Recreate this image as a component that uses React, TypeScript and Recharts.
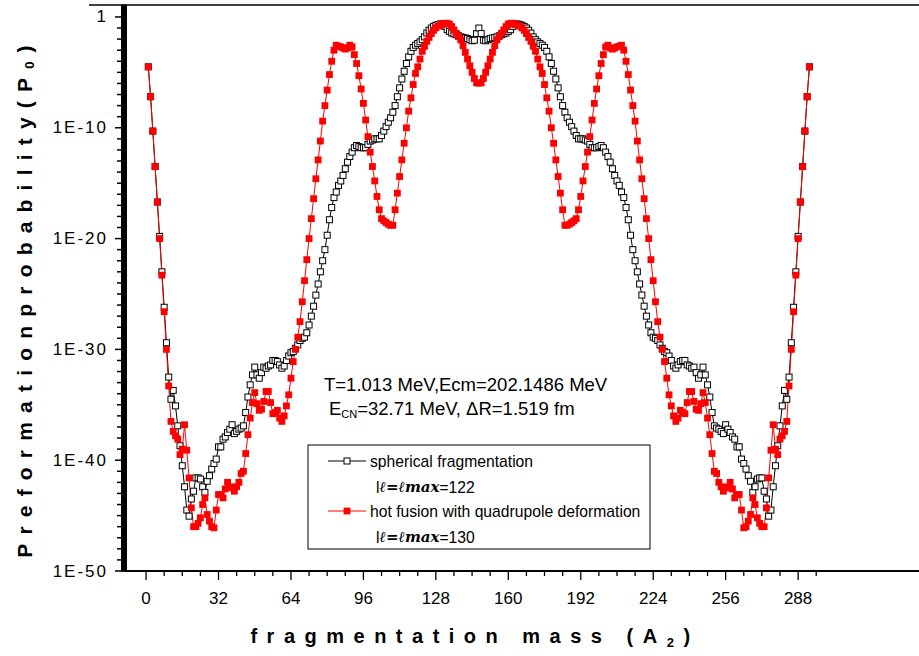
import React from 'react';
import { LineChart, Line, XAxis, YAxis } from 'recharts';

// log10 of preformation probability P0, A2 = 1..147 (left half)
const sphericalLog10Left = [
  -4.5, -7.2, -10.3, -13.5, -16.7, -19.8, -23.0, -26.2, -29.4, -32.5,
  -34.5, -33.7, -35.1, -36.9, -38.7, -40.5, -42.4, -44.5, -45.05, -43.5,
  -42.8, -41.6, -41.6, -41.7, -42.4, -42.9, -41.9, -41.4, -40.8, -40.3,
  -39.9, -38.8, -38.8, -38.1, -37.9, -37.5, -37.2, -36.8, -37.6, -37.4,
  -37.2, -37.1, -36.9, -35.7, -34.3, -33.2, -32.3, -31.6, -32.3, -32.6,
  -32.1, -31.6, -31.7, -31.5, -31.4, -31.0, -31.0, -31.1, -31.4, -31.7,
  -31.5, -31.0, -30.6, -30.3, -30.2, -29.9, -29.6, -29.2, -29.0, -28.9,
  -28.5, -27.8, -27.0, -26.1, -25.1, -24.1, -23.0, -22.0, -21.0, -19.7,
  -18.3, -17.2, -16.3, -15.8, -15.2, -14.8, -14.3, -13.7, -13.1, -12.6,
  -12.2, -11.8, -11.6, -11.7, -11.8, -11.8, -11.8, -11.5, -11.2, -11.1,
  -11.0, -11.0, -11.0, -10.7, -10.3, -9.9, -9.5, -9.1, -8.6, -8.0,
  -7.2, -6.4, -5.6, -4.9, -4.2, -3.6, -3.1, -2.75, -2.55, -2.4,
  -2.25, -2.05, -1.8, -1.45, -1.2, -1.0, -0.85, -0.75, -0.68, -0.63,
  -0.65, -0.85, -1.15, -1.3, -1.45, -1.52, -1.6, -1.7, -1.8, -1.85,
  -1.9, -1.95, -2.05, -2.15, -2.1, -1.5, -1.0,
];
// A2 = 148..293 (right half)
const sphericalLog10Right = [
  -1.5, -2.1, -2.15, -2.05, -1.95, -1.9, -1.85, -1.8, -1.7, -1.6,
  -1.52, -1.45, -1.3, -1.15, -0.85, -0.65, -0.63, -0.68, -0.75, -0.85,
  -1.0, -1.2, -1.45, -1.8, -2.05, -2.25, -2.4, -2.55, -2.75, -3.1,
  -3.6, -4.2, -4.9, -5.6, -6.4, -7.2, -8.0, -8.6, -9.1, -9.5,
  -9.9, -10.3, -10.7, -11.0, -11.0, -11.0, -11.1, -11.2, -11.5, -11.8,
  -11.8, -11.8, -11.7, -11.6, -11.8, -12.2, -12.6, -13.1, -13.7, -14.3,
  -14.8, -15.2, -15.8, -16.3, -17.2, -18.3, -19.7, -21.0, -22.0, -23.0,
  -24.1, -25.1, -26.1, -27.0, -27.8, -28.5, -28.9, -29.0, -29.2, -29.6,
  -29.9, -30.2, -30.3, -30.6, -31.0, -31.5, -31.7, -31.4, -31.1, -31.0,
  -31.0, -31.4, -31.5, -31.7, -31.6, -32.1, -32.6, -32.3, -31.6, -32.3,
  -33.2, -34.3, -35.7, -36.9, -37.1, -37.2, -37.4, -37.6, -36.8, -37.2,
  -37.5, -37.9, -38.1, -38.8, -38.8, -39.9, -40.3, -40.8, -41.4, -41.9,
  -42.9, -42.4, -41.7, -41.6, -41.6, -42.8, -43.5, -45.05, -44.5, -42.4,
  -40.5, -38.7, -36.9, -35.1, -33.7, -34.5, -32.5, -29.4, -26.2, -23.0,
  -19.8, -16.7, -13.5, -10.3, -7.2, -4.5,
];

const hotFusionLog10Left = [
  -4.5, -7.2, -10.3, -13.5, -16.7, -20.0, -23.3, -26.6, -30.0, -33.3,
  -36.5, -37.4, -37.8, -38.1, -39.5, -39.0, -36.8, -39.1, -41.6, -44.3,
  -46.0, -46.0, -45.7, -45.2, -44.0, -43.4, -44.9, -45.5, -46.0, -46.1,
  -44.5, -43.1, -43.1, -43.4, -42.6, -42.0, -42.4, -42.5, -42.8, -42.4,
  -42.0, -41.2, -41.0, -39.4, -37.7, -36.2, -34.8, -33.9, -34.9, -35.5,
  -35.4, -34.7, -33.8, -33.8, -34.8, -35.8, -35.7, -35.5, -36.2, -36.5,
  -36.0, -35.1, -34.1, -32.6, -31.1, -30.0, -28.9, -27.5, -25.7, -23.8,
  -21.9, -20.0, -18.2, -16.4, -14.6, -12.9, -11.2, -9.4, -8.0, -6.6,
  -5.2, -4.0, -3.0, -2.55, -2.65, -2.7, -2.8, -2.9, -2.8, -2.55,
  -2.7, -3.4, -4.2, -5.3, -6.5, -7.8, -9.3, -10.8, -12.2, -13.5,
  -14.8, -16.2, -17.4, -18.2, -18.4, -18.55, -18.7, -18.8, -18.8, -17.4,
  -15.9, -14.4, -12.9, -11.4, -10.0, -8.5, -7.3, -6.1, -5.1, -4.5,
  -3.8, -3.1, -2.65, -2.2, -1.85, -1.5, -1.2, -0.98, -0.82, -0.72,
  -0.62, -0.57, -0.57, -0.65, -0.87, -1.17, -1.47, -1.77, -2.07, -2.6,
  -3.2, -3.8, -4.4, -5.0, -5.55, -5.95, -5.97,
];
const hotFusionLog10Right = [
  -5.95, -5.55, -5.0, -4.4, -3.8, -3.2, -2.6, -2.07, -1.77, -1.47,
  -1.17, -0.87, -0.65, -0.57, -0.57, -0.62, -0.72, -0.82, -0.98, -1.2,
  -1.5, -1.85, -2.2, -2.65, -3.1, -3.8, -4.5, -5.1, -6.1, -7.3,
  -8.5, -10.0, -11.4, -12.9, -14.4, -15.9, -17.4, -18.8, -18.8, -18.7,
  -18.55, -18.4, -18.2, -17.4, -16.2, -14.8, -13.5, -12.2, -10.8, -9.3,
  -7.8, -6.5, -5.3, -4.2, -3.4, -2.7, -2.55, -2.8, -2.9, -2.8,
  -2.7, -2.65, -2.55, -3.0, -4.0, -5.2, -6.6, -8.0, -9.4, -11.2,
  -12.9, -14.6, -16.4, -18.2, -20.0, -21.9, -23.8, -25.7, -27.5, -28.9,
  -30.0, -31.1, -32.6, -34.1, -35.1, -36.0, -36.5, -36.2, -35.5, -35.7,
  -35.8, -34.8, -33.8, -33.8, -34.7, -35.4, -35.5, -34.9, -33.9, -34.8,
  -36.2, -37.7, -39.4, -41.0, -41.2, -42.0, -42.4, -42.8, -42.5, -42.4,
  -42.0, -42.6, -43.4, -43.1, -43.1, -44.5, -46.1, -46.0, -45.5, -44.9,
  -43.4, -44.0, -45.2, -45.7, -46.0, -46.0, -44.3, -41.6, -39.1, -36.8,
  -39.0, -39.5, -38.1, -37.8, -37.4, -36.5, -33.3, -30.0, -26.6, -23.3,
  -20.0, -16.7, -13.5, -10.3, -7.2, -4.5,
];

const firstMass = 1;
const xTicks = [0, 8, 16, 24, 32, 40, 48, 56, 64, 72, 80, 88, 96, 104, 112, 120, 128, 136, 144, 152, 160, 168, 176, 184, 192, 200, 208, 216, 224, 232, 240, 248, 256, 264, 272, 280, 288, 296];
const xTickLabels = ['0', '32', '64', '96', '128', '160', '192', '224', '256', '288'];
const yTickExponents = [
  -50, -49, -48, -47, -46, -45, -44, -43, -42, -41,
  -40, -39, -38, -37, -36, -35, -34, -33, -32, -31,
  -30, -29, -28, -27, -26, -25, -24, -23, -22, -21,
  -20, -19, -18, -17, -16, -15, -14, -13, -12, -11,
  -10, -9, -8, -7, -6, -5, -4, -3, -2, -1, 0,
];
const yTickLabels = ['1E-50', '1E-40', '1E-30', '1E-20', '1E-10', '1'];

const sphericalLog10 = [...sphericalLog10Left, ...sphericalLog10Right];
const hotFusionLog10 = [...hotFusionLog10Left, ...hotFusionLog10Right];
const rows = sphericalLog10.map((s, i) => ({
  A: firstMass + i,
  sph: Math.pow(10, s),
  hot: Math.pow(10, hotFusionLog10[i]),
}));
const yTicks = yTickExponents.map((e) => Math.pow(10, e));

const FONT = 'Liberation Sans, Arial, sans-serif';

const XTick = (props: any) => {
  const { x, y, payload } = props;
  const v = payload.value;
  const major = v % 32 === 0;
  const label = xTickLabels.find((l) => Number(l) === v);
  return (
    <g>
      <line x1={x} x2={x} y1={y} y2={y + (major ? 9 : 5)} stroke="#000" strokeWidth={1.3} />
      {major && label !== undefined && (
        <text x={x} y={y + 27} textAnchor="middle" dominantBaseline="central" fontFamily={FONT} fontSize={17} fill="#000">
          {label}
        </text>
      )}
    </g>
  );
};

const YTick = (props: any) => {
  const { x, y, payload } = props;
  const e = Math.round(Math.log10(payload.value));
  const major = e % 10 === 0;
  const label = major ? yTickLabels[5 + e / 10] : null;
  return (
    <g>
      <line x1={x - (major ? 10 : 8)} x2={x + 2} y1={y} y2={y} stroke="#000" strokeWidth={1.5} />
      {label && (
        <text x={x - 17} y={y} textAnchor="end" dominantBaseline="central" fontFamily={FONT} fontSize={17} letterSpacing={2} fill="#000">
          {label}
        </text>
      )}
    </g>
  );
};

const SphDot = (props: any) => {
  const { cx, cy, index } = props;
  if (cx == null || cy == null) return <g key={`s${index}`} />;
  return <rect key={`s${index}`} x={cx - 3} y={cy - 3} width={6} height={6} fill="#fff" stroke="#000" strokeWidth={1} />;
};

const HotDot = (props: any) => {
  const { cx, cy, index } = props;
  if (cx == null || cy == null) return <g key={`h${index}`} />;
  return <rect key={`h${index}`} x={cx - 3.4} y={cy - 3.4} width={6.8} height={6.8} fill="#ff0000" />;
};

export default function App() {
  return (
    <div style={{ position: 'absolute', left: 0, top: 0, width: 919, height: 656, background: '#fff' }}>
      <LineChart width={919} height={656} data={rows} margin={{ top: 5, right: 0, bottom: 0, left: 0 }}>
        <XAxis
          dataKey="A"
          type="number"
          domain={[-9.3, 341.4]}
          ticks={xTicks}
          interval={0}
          tick={<XTick />}
          tickLine={false}
          tickSize={0}
          tickMargin={0}
          axisLine={{ stroke: '#000', strokeWidth: 1.8 }}
          height={85}
          allowDataOverflow
        />
        <YAxis
          type="number"
          scale="log"
          domain={[1e-50, 12]}
          ticks={yTicks}
          interval={0}
          tick={<YTick />}
          tickLine={false}
          tickSize={0}
          tickMargin={0}
          axisLine={false}
          width={125}
          allowDataOverflow
        />
        <Line type="linear" dataKey="sph" stroke="#000" strokeWidth={1} dot={SphDot} activeDot={false} isAnimationActive={false} />
        <Line type="linear" dataKey="hot" stroke="#ff0000" strokeWidth={1} dot={HotDot} activeDot={false} isAnimationActive={false} />
      </LineChart>
      <svg width={919} height={656} style={{ position: 'absolute', left: 0, top: 0, pointerEvents: 'none' }}>
        <line x1={89} x2={919} y1={5} y2={5} stroke="#000" strokeWidth={1.5} />
        <rect x={121} y={4.5} width={6} height={567} fill="#000" />
        <text
          transform="translate(24,297) rotate(-90)"
          textAnchor="middle"
          dominantBaseline="central"
          fontFamily={FONT}
          fontWeight="bold"
          fontSize={21}
          letterSpacing={9.2}
          fill="#000"
        >
          Preformationprobability(P<tspan fontSize={13} dy={5}>0</tspan><tspan dy={-5}>)</tspan>
        </text>
        <text x={475} y={636} textAnchor="middle" dominantBaseline="central" fontFamily={FONT} fontWeight="bold" fontSize={20} letterSpacing={9.5} fill="#000">
          fragmentation mass (A<tspan fontSize={13} dy={6}>2</tspan><tspan dy={-6}>)</tspan>
        </text>
        <text x={324} y={384} dominantBaseline="central" fontFamily={FONT} fontSize={18.5} fill="#000">
          T=1.013 MeV,Ecm=202.1486 MeV
        </text>
        <text x={329} y={408} dominantBaseline="central" fontFamily={FONT} fontSize={18.5} fill="#000">
          E<tspan fontSize={11} dy={6}>CN</tspan><tspan dy={-6}>=32.71 MeV, ΔR=1.519 fm</tspan>
        </text>
        <rect x={308} y={445} width={342} height={104} fill="none" stroke="#000" strokeWidth={1} />
        <line x1={328} x2={366} y1={461} y2={461} stroke="#000" strokeWidth={1} />
        <rect x={344} y={458} width={6} height={6} fill="#fff" stroke="#000" strokeWidth={1} />
        <text x={370} y={461} dominantBaseline="central" fontFamily={FONT} fontSize={15.7} fill="#000">
          spherical fragmentation
        </text>
        <text x={376} y={487} dominantBaseline="central" fontFamily={FONT} fontSize={15.7} fill="#000">
          l<tspan fontFamily="DejaVu Serif" fontStyle="italic" fontWeight="bold" fontSize={15}>ℓ=ℓmax</tspan>=122
        </text>
        <line x1={328} x2={366} y1={511} y2={511} stroke="#ff0000" strokeWidth={1} />
        <rect x={343.6} y={507.6} width={6.8} height={6.8} fill="#ff0000" />
        <text x={370} y={511} dominantBaseline="central" fontFamily={FONT} fontSize={15.7} fill="#000">
          hot fusion with quadrupole deformation
        </text>
        <text x={376} y={537} dominantBaseline="central" fontFamily={FONT} fontSize={15.7} fill="#000">
          l<tspan fontFamily="DejaVu Serif" fontStyle="italic" fontWeight="bold" fontSize={15}>ℓ=ℓmax</tspan>=130
        </text>
      </svg>
    </div>
  );
}
